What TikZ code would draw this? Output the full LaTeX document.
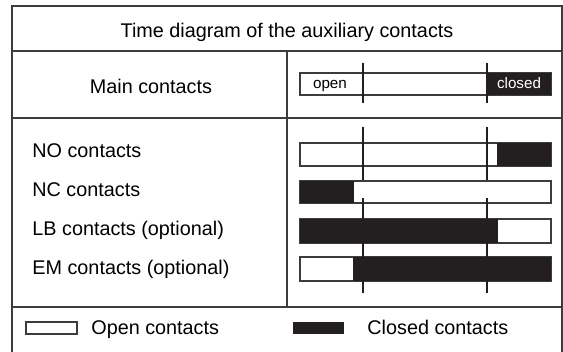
\documentclass[tikz,border=0pt]{standalone}
\usepackage{fontspec}
\setmainfont{Liberation Sans}
\usetikzlibrary{positioning}

\definecolor{barblack}{HTML}{231F20}
\definecolor{rulegray}{HTML}{3C3C3C}

\begin{document}
\begin{tikzpicture}[
                x=0.5pt, y=-0.5pt,
                frame/.style={draw=rulegray, line width=0.9pt},
                bar/.style={draw=rulegray, line width=0.65pt},
                shut/.style={fill=barblack},
                tick/.style={draw=barblack, line width=0.75pt},
                txt/.style={inner sep=0pt, font=\fontsize{9.9}{12}\selectfont},
                small/.style={inner sep=0pt, font=\fontsize{7.6}{9}\selectfont},
                key/.style={inner sep=0pt, minimum width=25.5pt, minimum height=6pt}
            ]
                \useasboundingbox (0,0) rectangle (563,352);

                % table lines
                \draw[frame] (12,352) -- (12,6) -- (562,6) -- (562,352);
                \draw[frame] (12,51) -- (562,51);
                \draw[frame] (12,118) -- (562,118);
                \draw[frame] (12,307) -- (562,307);
                \draw[frame] (287,51) -- (287,307);

                \node[txt, anchor=base] (title) at (287,38) {Time diagram of the auxiliary contacts};
                \node[txt, anchor=base] (main) at (151,94) {Main contacts};

                % main contacts
                \draw[bar, fill=white] (300,73) rectangle (551,95);
                \fill[shut] (487,73) rectangle (551,95);
                \node[small, anchor=base] (open) at (330,89) {open};
                \node[small, anchor=base, text=white] (closed) at (519,89) {closed};
                \draw[tick] (363,63) -- (363,103);
                \draw[tick] (487,63) -- (487,103);

                % auxiliary contacts
                \node[txt, anchor=base west] (no) at (32,158) {NO contacts};
                \node[txt, anchor=base west] (nc) at (32,197) {NC contacts};
                \node[txt, anchor=base west] (lb) at (32,236) {LB contacts (optional)};
                \node[txt, anchor=base west] (em) at (32,275) {EM contacts (optional)};

                \draw[bar] (300,143) rectangle (551,166);
                \fill[shut] (497,143) rectangle (551,166);
                \draw[bar] (300,181) rectangle (551,203);
                \fill[shut] (300,181) rectangle (354,203);
                \draw[bar] (300,219) rectangle (551,243);
                \fill[shut] (300,219) rectangle (498,243);
                \draw[bar] (300,257) rectangle (551,281);
                \fill[shut] (353,257) rectangle (551,281);

                \foreach \t in {363,487} {
                    \draw[tick] (\t,127) -- (\t,180);
                    \draw[tick] (\t,198) -- (\t,293);
                }

                % legend
                \node[key, draw=rulegray, line width=0.65pt] (openkey) at (51.5,328) {};
                \node[txt, anchor=base west] (openlbl) at (91,335) {Open contacts};
                \node[key, shut] (shutkey) at (318.5,328) {};
                \node[txt, anchor=base west] (shutlbl) at (367,335) {Closed contacts};
            \end{tikzpicture}
\end{document}
